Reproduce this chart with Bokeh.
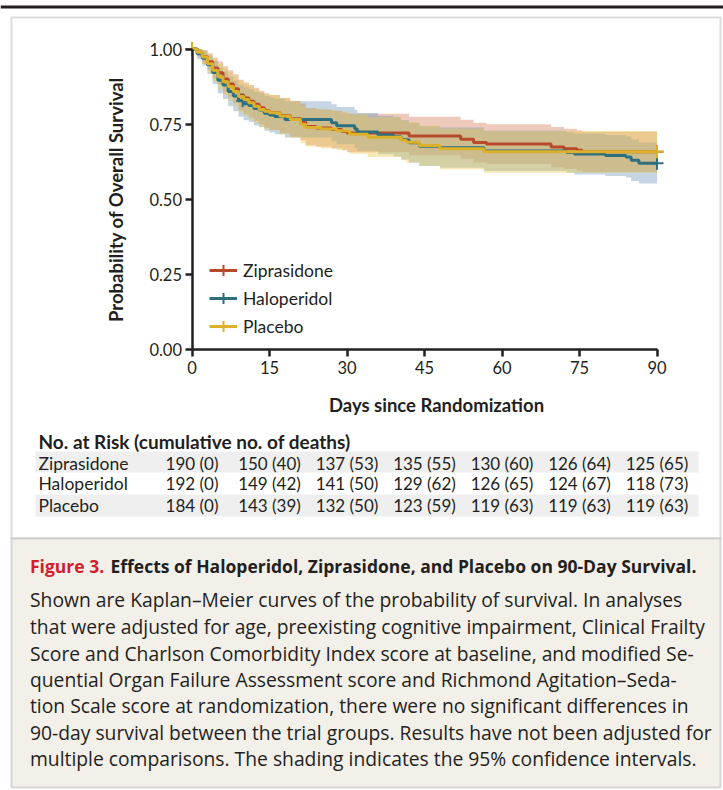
from bokeh.plotting import figure
from bokeh.models import (Range1d, Label, LabelSet, BoxAnnotation, Legend, LegendItem,
                          ColumnDataSource, FixedTicker)
from bokeh.core.properties import value
from bokeh.embed import file_html
from bokeh.resources import INLINE

# ---------------- data ----------------
groups = ["Ziprasidone", "Haloperidol", "Placebo"]

days_z = [0, 1, 2, 3, 4, 5, 6, 7, 8, 9, 10, 11, 12, 13, 14, 15, 17, 19, 21, 22, 24, 27, 29, 30,
          42, 52, 54.5, 57, 69.5, 72, 74.5, 75.5, 90]
surv_z = [1.0, 0.989, 0.974, 0.958, 0.937, 0.921, 0.900, 0.884, 0.868, 0.847, 0.837, 0.826, 0.816,
          0.805, 0.795, 0.789, 0.779, 0.768, 0.758, 0.742, 0.737, 0.732, 0.726, 0.721,
          0.711, 0.700, 0.689, 0.684, 0.674, 0.668, 0.663, 0.658, 0.658]
low_z = [1.0, 0.974, 0.951, 0.930, 0.902, 0.883, 0.857, 0.839, 0.820, 0.796, 0.785, 0.772, 0.761,
         0.749, 0.738, 0.731, 0.720, 0.708, 0.697, 0.680, 0.675, 0.669, 0.663, 0.657,
         0.647, 0.635, 0.623, 0.618, 0.607, 0.601, 0.596, 0.591, 0.591]
up_z = [1.0, 1.0, 0.997, 0.986, 0.972, 0.959, 0.943, 0.929, 0.916, 0.898, 0.889, 0.880, 0.871,
        0.861, 0.852, 0.847, 0.838, 0.828, 0.819, 0.804, 0.799, 0.795, 0.789, 0.785,
        0.775, 0.765, 0.755, 0.750, 0.741, 0.735, 0.730, 0.725, 0.725]

days_h = [0, 1, 2, 3, 4, 5, 6, 7, 8, 9, 10, 11, 12, 13, 14, 15, 16, 18, 27, 28, 31.5, 32, 36, 39,
          40.5, 42, 44, 48, 56.5, 72.5, 74, 80, 84, 85, 86.5, 90]
surv_h = [1.0, 0.984, 0.969, 0.948, 0.922, 0.896, 0.880, 0.859, 0.844, 0.828, 0.818, 0.812, 0.802,
          0.797, 0.786, 0.781, 0.776, 0.766, 0.755, 0.745, 0.734, 0.724, 0.714, 0.708,
          0.698, 0.688, 0.677, 0.672, 0.661, 0.656, 0.651, 0.646, 0.641, 0.630, 0.620, 0.620]
low_h = [1.0, 0.966, 0.944, 0.917, 0.884, 0.853, 0.834, 0.810, 0.793, 0.775, 0.763, 0.757, 0.746,
         0.740, 0.728, 0.722, 0.717, 0.706, 0.694, 0.683, 0.671, 0.661, 0.650, 0.643,
         0.633, 0.622, 0.611, 0.605, 0.594, 0.589, 0.583, 0.578, 0.573, 0.561, 0.553, 0.553]
up_h = [1.0, 1.0, 0.994, 0.979, 0.960, 0.939, 0.926, 0.908, 0.895, 0.881, 0.873, 0.867, 0.858,
        0.854, 0.844, 0.840, 0.835, 0.826, 0.816, 0.807, 0.797, 0.787, 0.778, 0.773,
        0.763, 0.754, 0.743, 0.739, 0.728, 0.723, 0.719, 0.714, 0.709, 0.699, 0.689, 0.689]

days_p = [0, 1, 2, 3, 4, 5, 6, 7, 8, 9, 10, 11, 12, 13, 14, 15, 17, 19, 21, 22, 25, 28, 30.5, 34,
          40.5, 41.5, 44, 48, 56.5, 90]
surv_p = [1.0, 0.989, 0.973, 0.951, 0.929, 0.908, 0.891, 0.875, 0.859, 0.842, 0.832, 0.821, 0.810,
          0.799, 0.793, 0.788, 0.777, 0.766, 0.750, 0.739, 0.734, 0.728, 0.717, 0.707,
          0.696, 0.690, 0.679, 0.668, 0.658, 0.658]
low_p = [1.0, 0.974, 0.950, 0.920, 0.892, 0.866, 0.846, 0.827, 0.809, 0.789, 0.778, 0.766, 0.753,
         0.741, 0.734, 0.729, 0.717, 0.705, 0.687, 0.676, 0.670, 0.664, 0.652, 0.641,
         0.630, 0.623, 0.612, 0.600, 0.589, 0.589]
up_p = [1.0, 1.0, 0.996, 0.982, 0.966, 0.950, 0.936, 0.923, 0.909, 0.895, 0.886, 0.876, 0.867,
        0.857, 0.852, 0.847, 0.837, 0.827, 0.813, 0.802, 0.798, 0.792, 0.782, 0.773,
        0.762, 0.757, 0.746, 0.736, 0.727, 0.727]

# censoring marks
cens_days_z = [0, 90]
cens_surv_z = [1.0, 0.658]
cens_days_h = [0, 9.8, 90]
cens_surv_h = [1.0, 0.828, 0.620]
cens_days_p = [0, 90]
cens_surv_p = [1.0, 0.658]

x_ticks = [0, 15, 30, 45, 60, 75, 90]
y_ticks = [0.0, 0.25, 0.5, 0.75, 1.0]
y_tick_labels = ["0.00", "0.25", "0.50", "0.75", "1.00"]

risk_days = [0, 15, 30, 45, 60, 75, 90]
at_risk_z = [190, 150, 137, 135, 130, 126, 125]
deaths_z = [0, 40, 53, 55, 60, 64, 65]
at_risk_h = [192, 149, 141, 129, 126, 124, 118]
deaths_h = [0, 42, 50, 62, 65, 67, 73]
at_risk_p = [184, 143, 132, 123, 119, 119, 119]
deaths_p = [0, 39, 50, 59, 63, 63, 63]

x_label = "Days since Randomization"
y_label = "Probability of Overall Survival"
table_title = "No. at Risk (cumulative no. of deaths)"
fig_num = "Figure 3."
fig_title = "Effects of Haloperidol, Ziprasidone, and Placebo on 90-Day Survival."
caption_lines = [
    "Shown are Kaplan\u2013Meier curves of the probability of survival. In analyses",
    "that were adjusted for age, preexisting cognitive impairment, Clinical Frailty",
    "Score and Charlson Comorbidity Index score at baseline, and modified Se-",
    "quential Organ Failure Assessment score and Richmond Agitation\u2013Seda-",
    "tion Scale score at randomization, there were no significant differences in",
    "90-day survival between the trial groups. Results have not been adjusted for",
    "multiple comparisons. The shading indicates the 95% confidence intervals.",
]

# ---------------- layout / style ----------------
FONT = "Lato"
CAP_FONT = "Open Sans"
DARK = "#231f20"
LINE_COLORS = ["#b8492b", "#2e6f7f", "#dcb12a"]
BAND_COLORS = ["#d27a58", "#6f97b8", "#ecc94a"]

W, H = 723, 790
AX_L, AX_R = 191.5, 656.5     # page x of day 0 and day 90
AX_T, AX_B = 48.5, 349.3      # page y of 1.0 and 0.0


def dx(px):
    return (px - AX_L) * 90.0 / (AX_R - AX_L)


def dy(py):
    return (AX_B - py) / (AX_B - AX_T)


p = figure(width=W, height=H, x_range=Range1d(dx(0), dx(W)), y_range=Range1d(dy(H), dy(0)),
           output_backend="svg", toolbar_location=None,
           min_border_left=0, min_border_right=0, min_border_top=0, min_border_bottom=0)
p.outline_line_color = None
p.grid.visible = False
p.background_fill_color = "white"
p.border_fill_color = "white"


def box(l, r, t, b, fill=None, line=None, lw=1):
    return BoxAnnotation(left=dx(l), right=dx(r), top=dy(t), bottom=dy(b),
                         fill_color=fill, fill_alpha=1 if fill else 0,
                         line_color=line, line_width=lw, level="underlay")


p.add_layout(box(0, 723, 5, 8, fill=DARK))
p.add_layout(box(11, 720, 17, 538, line="#8c8c8c", lw=2))
p.add_layout(box(11, 720, 538, 787, fill="#f3f0ea", line="#8c8c8c", lw=2))
p.add_layout(box(35, 698, 451, 472, fill="#efefef"))
p.add_layout(box(35, 698, 494, 516, fill="#efefef"))

series = [
    (days_z, surv_z, low_z, up_z, cens_days_z, cens_surv_z),
    (days_h, surv_h, low_h, up_h, cens_days_h, cens_surv_h),
    (days_p, surv_p, low_p, up_p, cens_days_p, cens_surv_p),
]
for (d, s, lo, up, cd, cs), bc in zip(series, BAND_COLORS):
    p.varea_step(x=d, y1=lo, y2=up, step_mode="after", fill_color=bc, fill_alpha=0.4)

items = []
for (d, s, lo, up, cd, cs), lc, g in zip(series, LINE_COLORS, groups):
    ln = p.step(x=d, y=s, mode="after", line_color=lc, line_width=3)
    mk = p.scatter(x=cd, y=cs, marker="cross", size=13, line_color=lc, line_width=2)
    items.append(LegendItem(label=g, renderers=[ln, mk]))

legend = Legend(items=items, location=(209, H - 340), glyph_width=28, glyph_height=28,
                label_height=28, spacing=0, padding=0, margin=0, label_standoff=6,
                border_line_color=None, background_fill_alpha=0,
                label_text_font=FONT, label_text_font_size="17.5px",
                label_text_color=DARK)
p.add_layout(legend)

# axes drawn at day 0 / probability 0
for ax in (p.xaxis[0], p.yaxis[0]):
    ax.fixed_location = 0
    ax.axis_line_width = 2.5
    ax.axis_line_color = DARK
    ax.major_tick_line_width = 2.5
    ax.major_tick_line_color = DARK
    ax.major_tick_out = 7
    ax.major_tick_in = 0
    ax.minor_tick_line_color = None
    ax.major_label_text_font = FONT
    ax.major_label_text_font_size = "16.5px"
    ax.major_label_text_color = DARK
    ax.axis_label_text_font = FONT
    ax.axis_label_text_font_style = "bold"
    ax.axis_label_text_font_size = "18.5px"
    ax.axis_label_text_color = DARK

p.xaxis.bounds = (x_ticks[0], x_ticks[-1])
p.yaxis.bounds = (y_ticks[0], y_ticks[-1])
p.xaxis.ticker = FixedTicker(ticks=x_ticks)
p.yaxis.ticker = FixedTicker(ticks=y_ticks)
p.yaxis.major_label_overrides = dict(zip(y_ticks, y_tick_labels))
p.yaxis.axis_label = y_label
p.xaxis.major_label_standoff = 4
p.yaxis.major_label_standoff = 3
p.yaxis.axis_label_standoff = 20


def label(px, py, text, size="17px", style="normal", color=DARK, align="left", font=FONT):
    return Label(x=dx(px), y=dy(py), text=text, text_font=font, text_font_style=style,
                 text_font_size=size, text_color=color, text_baseline="middle",
                 text_align=align)


# x-axis title (placed off-centre as in the original)
p.add_layout(label(436, 404, x_label, size="18.5px", style="bold", align="center"))

# at-risk table
p.add_layout(label(38, 441, table_title, size="19px", style="bold"))
row_y = [462.7, 483.3, 505]
for g, n, dd, ry in zip(groups, [at_risk_z, at_risk_h, at_risk_p],
                        [deaths_z, deaths_h, deaths_p], row_y):
    p.add_layout(label(38, ry, g, size="17.5px"))
    src = ColumnDataSource(dict(x=risk_days, text=[f"{a} ({b})" for a, b in zip(n, dd)]))
    p.add_layout(LabelSet(x="x", y=dy(ry), text="text", source=src,
                          text_font=value(FONT), text_font_size=value("17px"),
                          text_color=DARK, text_align="center", text_baseline="middle"))

# caption
p.add_layout(label(29.5, 565, fig_num, size="17.5px", style="bold", color="#d0202e",
                   font=CAP_FONT))
p.add_layout(label(110, 565, fig_title, size="17.5px", style="bold", font=CAP_FONT))
cap_y = [599, 626, 652.5, 679, 705, 731.5, 758]
for line, cy in zip(caption_lines, cap_y):
    p.add_layout(label(29.5, cy, line, size="19.3px", font=CAP_FONT))

open("out.html", "w").write(file_html(p, INLINE))
